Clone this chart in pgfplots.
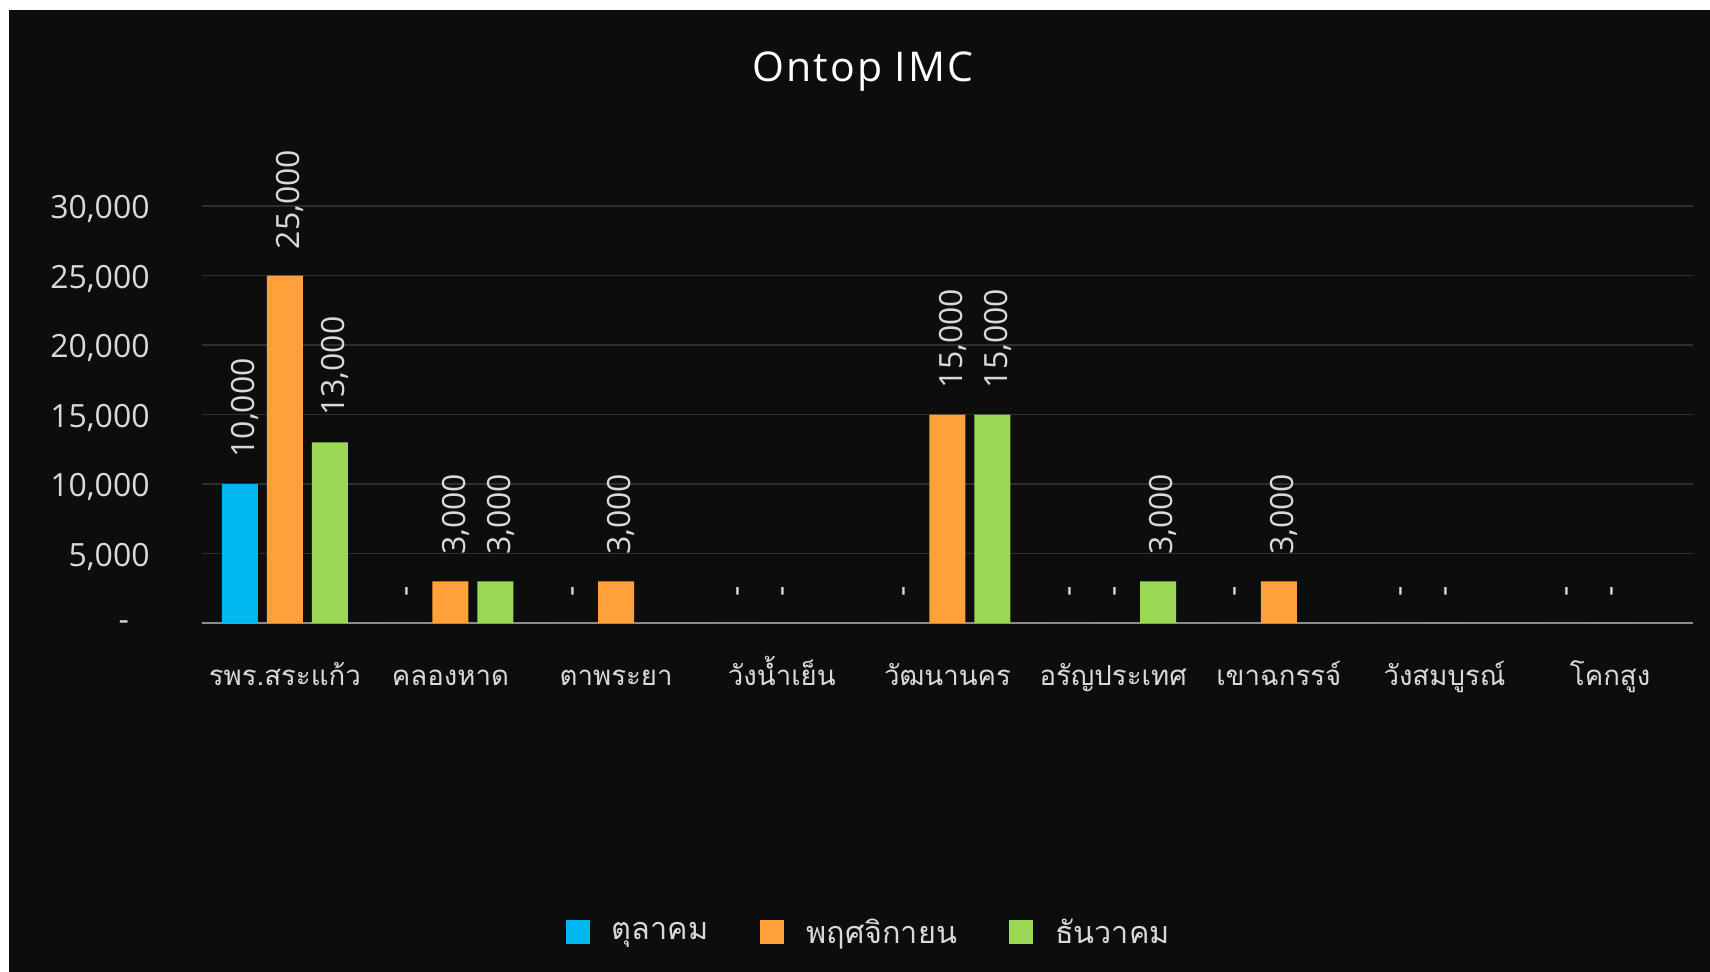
\documentclass[border=0pt]{standalone}
\usepackage{fontspec}
\setmainfont{Open Sans}
\newfontfamily\thaifont[Script=Thai]{Loma}
\usepackage{pgfplots}
\pgfplotsset{compat=1.18}
\usepackage{pgfplotstable}
\definecolor{bg}{HTML}{0D0D0D}
\definecolor{txt}{HTML}{D9D9D9}
\definecolor{cblue}{HTML}{00B8F0}
\definecolor{corange}{HTML}{FFA038}
\definecolor{cgreen}{HTML}{9BD855}
\definecolor{gridc}{HTML}{2E2E2E}
\definecolor{axisl}{HTML}{8C8C8C}

\pgfplotstableread{
x y lab
0 10000 10,000
1 0 -
2 0 -
3 0 -
4 0 -
5 0 -
6 0 -
7 0 -
8 0 -
}\oct
\pgfplotstableread{
x y lab
0 25000 25,000
1 3000 3,000
2 3000 3,000
3 0 -
4 15000 15,000
5 0 -
6 3000 3,000
7 0 -
8 0 -
}\nov
\pgfplotstableread{
x y lab
0 13000 13,000
1 3000 3,000
4 15000 15,000
5 3000 3,000
}\dec

\begin{document}
\begin{tikzpicture}
\fill[white] (0pt,0pt) rectangle (855pt,-486pt);
\fill[bg] (4.5pt,-5pt) rectangle (855pt,-486pt);
\node[text=white, font=\fontsize{20.5}{20.5}\selectfont\addfontfeature{LetterSpace=5}] at (431.5pt,-36pt) {Ontop IMC};
\begin{axis}[
  at={(101pt,-311.5pt)}, anchor=south west,
  scale only axis, width=745.5pt, height=208.5pt,
  ybar=4.5pt, bar width=18pt,
  xmin=-0.5, xmax=8.5, ymin=0, ymax=30000,
  xtick={0,...,8},
  xticklabels={รพร.สระแก้ว,คลองหาด,ตาพระยา,วังน้ำเย็น,วัฒนานคร,อรัญประเทศ,เขาฉกรรจ์,วังสมบูรณ์,โคกสูง},
  ytick={0,5000,...,30000},
  scaled y ticks=false,
  yticklabels={{\makebox[15.5pt][l]{-}},{5,000},{10,000},{15,000},{20,000},{25,000},{30,000}},
  axis x line*=bottom, axis y line*=left,
  y axis line style={draw=none},
  x axis line style={axisl, line width=1pt},
  major tick length=0pt,
  ymajorgrids, grid style={gridc, line width=0.7pt},
  xticklabel style={font=\thaifont\fontsize{13.8}{13.8}\selectfont, text=txt, anchor=base, inner sep=0pt, yshift=-31pt},
  yticklabel style={font=\fontsize{16}{16}\selectfont, text=txt, anchor=east, inner sep=0pt, xshift=-26pt, yshift=-1.5pt},
  clip=false,
  nodes near coords, point meta=explicit symbolic,
  every node near coord/.append style={rotate=90, anchor=west, inner sep=0pt, xshift=13pt, yshift=-2.5pt, font=\fontsize{16}{16}\selectfont, text=txt},
  legend columns=-1,
  legend style={at={(rel axis cs:0.4479,-0.742)}, anchor=center, draw=none, fill=none, inner sep=0pt,
    font=\thaifont\fontsize{15.3}{15.3}\selectfont, text=txt,
    /tikz/every even column/.append style={column sep=24pt}},
  legend image code/.code={\fill[#1] (0pt,-6pt) rectangle (12pt,6pt); \path[draw=none,fill=none] (21pt,0pt) -- (21pt,0.1pt);},
]
\addplot[fill=cblue, draw=none] table[x=x, y=y, meta=lab] {\oct};
\addplot[fill=corange, draw=none] table[x=x, y=y, meta=lab] {\nov};
\addplot[fill=cgreen, draw=none] table[x=x, y=y, meta=lab] {\dec};
\legend{ตุลาคม,พฤศจิกายน,ธันวาคม}
\end{axis}
\pgfresetboundingbox
\useasboundingbox (0pt,0pt) rectangle (855pt,-486pt);
\end{tikzpicture}
\end{document}
